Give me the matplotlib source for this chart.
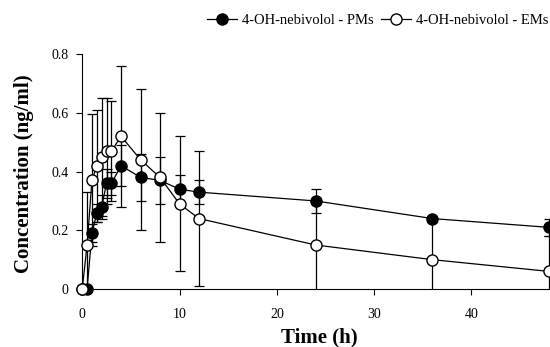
import matplotlib
matplotlib.use("Agg")
import matplotlib.pyplot as plt
import numpy as np

plt.rcParams['font.family'] = ['Liberation Serif', 'DejaVu Serif']

time_pm = [0, 0.5, 1, 1.5, 2, 2.5, 3, 4, 6, 8, 10, 12, 24, 36, 48]
conc_pm = [0, 0, 0.19, 0.26, 0.28, 0.36, 0.36, 0.42, 0.38, 0.37, 0.34, 0.33, 0.30, 0.24, 0.21]
sd_pm = [0, 0, 0.03, 0.03, 0.04, 0.05, 0.04, 0.07, 0.08, 0.08, 0.05, 0.04, 0.04, 0.01, 0.03]

time_em = [0, 0.5, 1, 1.5, 2, 2.5, 3, 4, 6, 8, 10, 12, 24, 36, 48]
conc_em = [0, 0.15, 0.37, 0.42, 0.45, 0.47, 0.47, 0.52, 0.44, 0.38, 0.29, 0.24, 0.15, 0.10, 0.06]
sd_em = [0, 0.18, 0.225, 0.19, 0.2, 0.18, 0.17, 0.24, 0.24, 0.22, 0.23, 0.23, 0.16, 0.14, 0.12]

fig = plt.figure(figsize=(5.5, 3.47), dpi=100)
ax = fig.add_axes([0.1495, 0.167, 0.8845, 0.677])

# error bars (clipped at the axis like the original)
ax.errorbar(time_pm, conc_pm, yerr=sd_pm, fmt='none', ecolor='black',
            elinewidth=0.9, capsize=3.6, capthick=0.9, zorder=2)
ax.errorbar(time_em, conc_em, yerr=sd_em, fmt='none', ecolor='black',
            elinewidth=0.9, capsize=3.6, capthick=0.9, zorder=2)

ax.plot(time_pm, conc_pm, color='black', marker='o', markersize=8,
        markerfacecolor='black', linewidth=0.9, clip_on=False,
        label='4-OH-nebivolol - PMs', zorder=3)
ax.plot(time_em, conc_em, color='black', marker='o', markersize=8,
        markerfacecolor='white', linewidth=0.9, clip_on=False,
        label='4-OH-nebivolol - EMs', zorder=4)

ax.set_xlim(0, 50)
ax.set_ylim(0, 0.8)
ax.set_xticks([0, 10, 20, 30, 40])
ax.set_yticks([0, 0.2, 0.4, 0.6, 0.8])
ax.set_yticklabels(['0', '0.2', '0.4', '0.6', '0.8'])
ax.tick_params(direction='out', length=4, width=0.8, labelsize=10)
ax.tick_params(axis='x', pad=9.5)
ax.tick_params(axis='y', pad=6)
ax.spines['top'].set_visible(False)
ax.spines['right'].set_visible(False)
ax.spines['left'].set_linewidth(0.8)
ax.spines['bottom'].set_linewidth(0.8)

ax.set_xlabel('Time (h)', fontsize=15, fontweight='bold')
ax.xaxis.set_label_coords(0.4883, -0.165)
ax.set_ylabel('Concentration (ng/ml)', fontsize=15, fontweight='bold')
ax.yaxis.set_label_coords(-0.1, 0.49)

fig.legend(loc='center', bbox_to_anchor=(0.686, 0.94), ncol=2, frameon=False,
           fontsize=10.5, handlelength=2.1, columnspacing=0.5, handletextpad=0.3)

plt.savefig('out.png', dpi=100)
